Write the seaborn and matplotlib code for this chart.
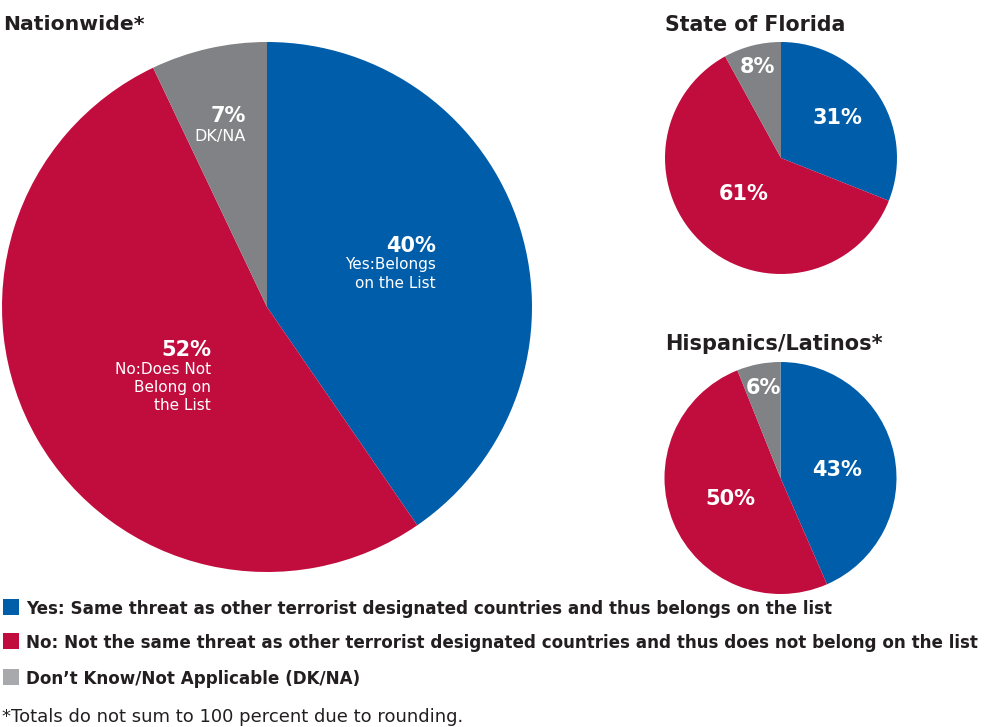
import numpy as np
import matplotlib.pyplot as plt
import seaborn as sns

sns.set_theme(style="white")
plt.rcParams['font.family'] = ['DejaVu Sans']

titles = ['Nationwide*', 'State of Florida', 'Hispanics/Latinos*']
nationwide = [40, 52, 7]
florida = [31, 61, 8]
hispanics = [43, 50, 6]
colors = ['#005DAA', '#C00D3E', '#808285']
legend_labels = ['Yes: Same threat as other terrorist designated countries and thus belongs on the list',
                 'No: Not the same threat as other terrorist designated countries and thus does not belong on the list',
                 'Don\u2019t Know/Not Applicable (DK/NA)']
legend_colors = ['#005DAA', '#C00D3E', '#A7A9AC']
footnote = '*Totals do not sum to 100 percent due to rounding.'

W, H = 989, 727
fig = plt.figure(figsize=(W / 100, H / 100), dpi=100)


def add_pie(cx, cy, r, values):
    ax = fig.add_axes([(cx - r) / W, 1 - (cy + r) / H, 2 * r / W, 2 * r / H])
    ax.pie(values, colors=colors, startangle=90, counterclock=False, radius=1, normalize=True,
           wedgeprops=dict(linewidth=0))
    ax.set_xlim(-1, 1)
    ax.set_ylim(-1, 1)
    return ax


add_pie(267, 307, 265, nationwide)
add_pie(781, 158, 116, florida)
add_pie(780.5, 478, 116, hispanics)


def t(x, y, s, size, weight='bold', color='white', ha='left'):
    fig.text(x / W, 1 - y / H, s, fontsize=size, fontweight=weight, color=color, ha=ha, va='center')


t(3, 24, titles[0], 14.7, color='#231F20')
t(665, 25, titles[1], 14.8, color='#231F20')
t(665, 344, titles[2], 15, color='#231F20')

t(246, 116, f'{nationwide[2]}%', 15, ha='right')
t(246, 136, 'DK/NA', 11.5, weight='normal', ha='right')
t(436, 246, f'{nationwide[0]}%', 15, ha='right')
t(436, 264, 'Yes:Belongs', 11, weight='normal', ha='right')
t(436, 283, 'on the List', 11, weight='normal', ha='right')
t(211, 350, f'{nationwide[1]}%', 15, ha='right')
t(211, 369, 'No:Does Not', 11, weight='normal', ha='right')
t(211, 387, 'Belong on', 11, weight='normal', ha='right')
t(211, 405, 'the List', 11, weight='normal', ha='right')

t(838, 118, f'{florida[0]}%', 15, ha='center')
t(744, 194, f'{florida[1]}%', 15, ha='center')
t(757, 67, f'{florida[2]}%', 15, ha='center')
t(837, 470, f'{hispanics[0]}%', 15, ha='center')
t(730, 499, f'{hispanics[1]}%', 15, ha='center')
t(763, 388, f'{hispanics[2]}%', 15, ha='center')

for y, c, label in zip([607, 641, 677], legend_colors, legend_labels):
    fig.patches.append(plt.Rectangle((3 / W, 1 - (y + 8) / H), 16 / W, 16 / H, color=c, lw=0, transform=fig.transFigure))
    t(26, y + 2, label, 12.1, color='#231F20')
t(2, 717, footnote, 13, weight='normal', color='#231F20')

fig.savefig('out.png', dpi=100)
